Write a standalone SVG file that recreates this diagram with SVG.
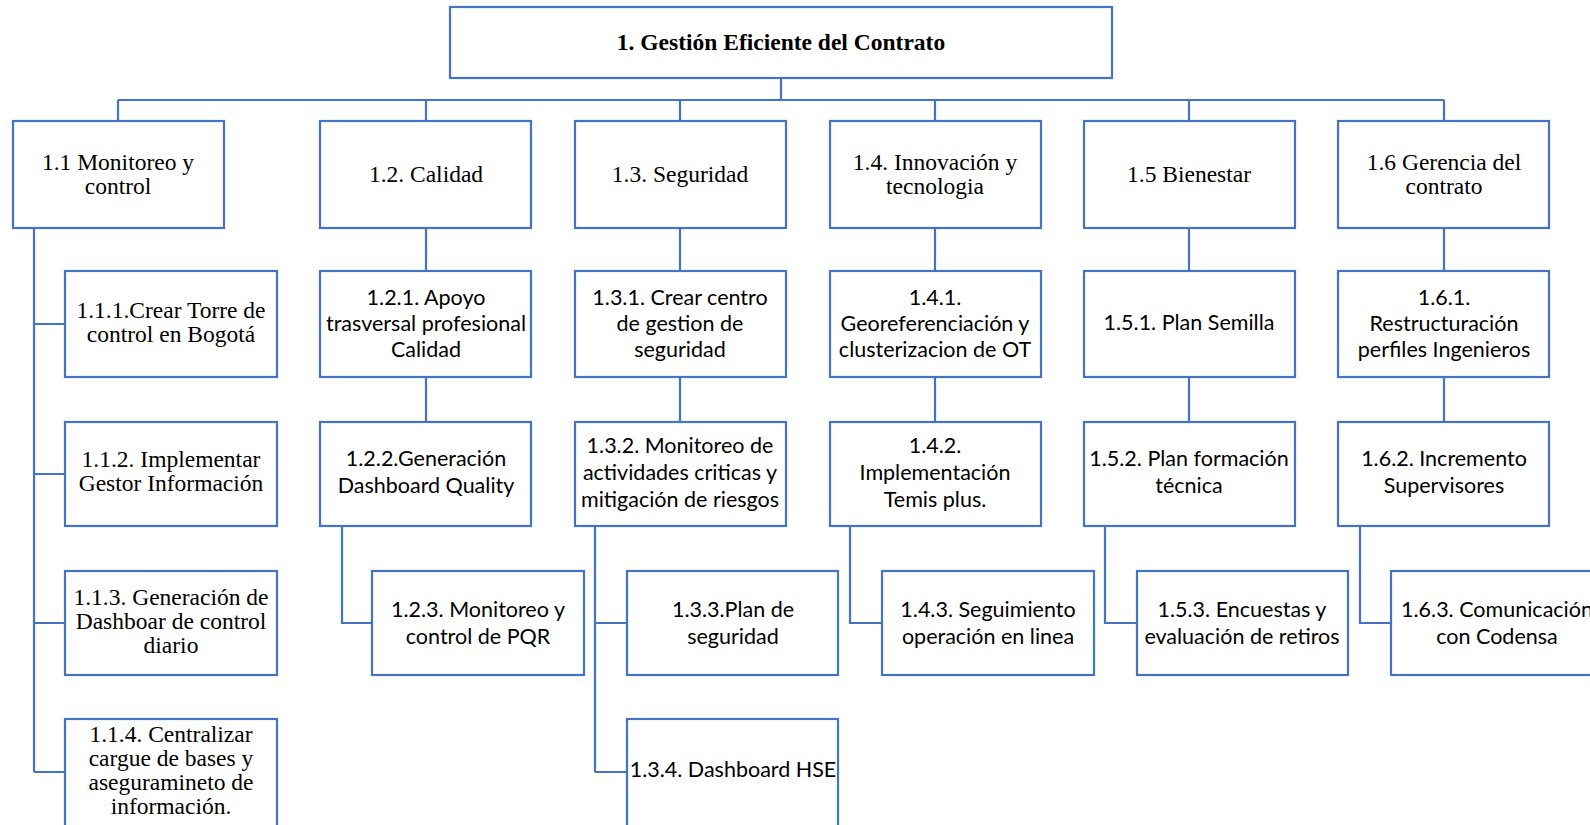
<svg xmlns="http://www.w3.org/2000/svg" width="1590" height="825" viewBox="0 0 1590 825">
  <style>
    .box { fill: #ffffff; stroke: #4472C4; stroke-width: 2.2; }
    .link { fill: none; stroke: #4472C4; stroke-width: 2.2; }
    .serif { font-family: "Liberation Serif", "Times New Roman", serif; font-size: 23.5px; fill: #000; text-anchor: middle; }
    .sans { font-family: Lato, "Noto Sans", sans-serif; font-size: 21.5px; fill: #000; text-anchor: middle; }
    .title { font-weight: bold; }
  </style>
  <rect width="1590" height="825" fill="#ffffff"/>

  <!-- connectors -->
  <g id="connectors" class="link">
    <path d="M781 78 V100 M118 100 H1444"/>
    <path d="M118 100 V121 M426 100 V121 M680 100 V121 M935 100 V121 M1189 100 V121 M1444 100 V121"/>
    <!-- 1.1 spine -->
    <path d="M34 228 V772 M34 324 H65 M34 474 H65 M34 623 H65 M34 772 H65"/>
    <!-- 1.2 chain -->
    <path d="M426 228 V271 M426 377 V422 M342 526 V623 H372"/>
    <!-- 1.3 chain -->
    <path d="M680 228 V271 M680 377 V422 M595 526 V772 M595 623 H627 M595 772 H627"/>
    <!-- 1.4 chain -->
    <path d="M935 228 V271 M935 377 V422 M850 526 V623 H882"/>
    <!-- 1.5 chain -->
    <path d="M1189 228 V271 M1189 377 V422 M1105 526 V623 H1137"/>
    <!-- 1.6 chain -->
    <path d="M1444 228 V271 M1444 377 V422 M1360 526 V623 H1391"/>
  </g>

  <!-- root -->
  <g id="n1">
    <rect class="box" x="450" y="7" width="662" height="71"/>
    <text class="serif title" x="781" y="50">1. Gestión Eficiente del Contrato</text>
  </g>

  <!-- level 1 -->
  <g id="n1_1">
    <rect class="box" x="13" y="121" width="211" height="107"/>
    <text class="serif" x="118" y="170">1.1 Monitoreo y<tspan x="118" dy="24">control</tspan></text>
  </g>
  <g id="n1_2">
    <rect class="box" x="320" y="121" width="211" height="107"/>
    <text class="serif" x="426" y="182">1.2. Calidad</text>
  </g>
  <g id="n1_3">
    <rect class="box" x="575" y="121" width="211" height="107"/>
    <text class="serif" x="680" y="182">1.3. Seguridad</text>
  </g>
  <g id="n1_4">
    <rect class="box" x="830" y="121" width="211" height="107"/>
    <text class="serif" x="935" y="170">1.4. Innovación y<tspan x="935" dy="24">tecnologia</tspan></text>
  </g>
  <g id="n1_5">
    <rect class="box" x="1084" y="121" width="211" height="107"/>
    <text class="serif" x="1189" y="182">1.5 Bienestar</text>
  </g>
  <g id="n1_6">
    <rect class="box" x="1338" y="121" width="211" height="107"/>
    <text class="serif" x="1444" y="170">1.6 Gerencia del<tspan x="1444" dy="24">contrato</tspan></text>
  </g>

  <!-- 1.1 branch -->
  <g id="n1_1_1">
    <rect class="box" x="65" y="271" width="212" height="106"/>
    <text class="serif" x="171" y="318">1.1.1.Crear Torre de<tspan x="171" dy="24">control en Bogotá</tspan></text>
  </g>
  <g id="n1_1_2">
    <rect class="box" x="65" y="422" width="212" height="104"/>
    <text class="serif" x="171" y="467">1.1.2. Implementar<tspan x="171" dy="24">Gestor Información</tspan></text>
  </g>
  <g id="n1_1_3">
    <rect class="box" x="65" y="571" width="212" height="104"/>
    <text class="serif" x="171" y="605">1.1.3. Generación de<tspan x="171" dy="24">Dashboar de control</tspan><tspan x="171" dy="24">diario</tspan></text>
  </g>
  <g id="n1_1_4">
    <rect class="box" x="65" y="719" width="212" height="112"/>
    <text class="serif" x="171" y="742">1.1.4. Centralizar<tspan x="171" dy="24">cargue de bases y</tspan><tspan x="171" dy="24">aseguramineto de</tspan><tspan x="171" dy="24">información.</tspan></text>
  </g>

  <!-- 1.2 branch -->
  <g id="n1_2_1">
    <rect class="box" x="320" y="271" width="211" height="106"/>
    <text class="sans" x="426" y="305">1.2.1. Apoyo<tspan x="426" dy="26">trasversal profesional</tspan><tspan x="426" dy="26">Calidad</tspan></text>
  </g>
  <g id="n1_2_2">
    <rect class="box" x="320" y="422" width="211" height="104"/>
    <text class="sans" x="426" y="466">1.2.2.Generación<tspan x="426" dy="27">Dashboard Quality</tspan></text>
  </g>
  <g id="n1_2_3">
    <rect class="box" x="372" y="571" width="212" height="104"/>
    <text class="sans" x="478" y="617">1.2.3. Monitoreo y<tspan x="478" dy="27">control de PQR</tspan></text>
  </g>

  <!-- 1.3 branch -->
  <g id="n1_3_1">
    <rect class="box" x="575" y="271" width="211" height="106"/>
    <text class="sans" x="680" y="305">1.3.1. Crear centro<tspan x="680" dy="26">de gestion de</tspan><tspan x="680" dy="26">seguridad</tspan></text>
  </g>
  <g id="n1_3_2">
    <rect class="box" x="575" y="422" width="211" height="104"/>
    <text class="sans" x="680" y="453">1.3.2. Monitoreo de<tspan x="680" dy="27">actividades criticas y</tspan><tspan x="680" dy="27">mitigación de riesgos</tspan></text>
  </g>
  <g id="n1_3_3">
    <rect class="box" x="627" y="571" width="211" height="104"/>
    <text class="sans" x="733" y="617">1.3.3.Plan de<tspan x="733" dy="27">seguridad</tspan></text>
  </g>
  <g id="n1_3_4">
    <rect class="box" x="627" y="719" width="211" height="112"/>
    <text class="sans" x="733" y="777">1.3.4. Dashboard HSE</text>
  </g>

  <!-- 1.4 branch -->
  <g id="n1_4_1">
    <rect class="box" x="830" y="271" width="211" height="106"/>
    <text class="sans" x="935" y="305">1.4.1.<tspan x="935" dy="26">Georeferenciación y</tspan><tspan x="935" dy="26">clusterizacion de OT</tspan></text>
  </g>
  <g id="n1_4_2">
    <rect class="box" x="830" y="422" width="211" height="104"/>
    <text class="sans" x="935" y="453">1.4.2.<tspan x="935" dy="27">Implementación</tspan><tspan x="935" dy="27">Temis plus.</tspan></text>
  </g>
  <g id="n1_4_3">
    <rect class="box" x="882" y="571" width="212" height="104"/>
    <text class="sans" x="988" y="617">1.4.3. Seguimiento<tspan x="988" dy="27">operación en linea</tspan></text>
  </g>

  <!-- 1.5 branch -->
  <g id="n1_5_1">
    <rect class="box" x="1084" y="271" width="211" height="106"/>
    <text class="sans" x="1189" y="330">1.5.1. Plan Semilla</text>
  </g>
  <g id="n1_5_2">
    <rect class="box" x="1084" y="422" width="211" height="104"/>
    <text class="sans" x="1189" y="466">1.5.2. Plan formación<tspan x="1189" dy="27">técnica</tspan></text>
  </g>
  <g id="n1_5_3">
    <rect class="box" x="1137" y="571" width="211" height="104"/>
    <text class="sans" x="1242" y="617">1.5.3. Encuestas y<tspan x="1242" dy="27">evaluación de retiros</tspan></text>
  </g>

  <!-- 1.6 branch -->
  <g id="n1_6_1">
    <rect class="box" x="1338" y="271" width="211" height="106"/>
    <text class="sans" x="1444" y="305">1.6.1.<tspan x="1444" dy="26">Restructuración</tspan><tspan x="1444" dy="26">perfiles Ingenieros</tspan></text>
  </g>
  <g id="n1_6_2">
    <rect class="box" x="1338" y="422" width="211" height="104"/>
    <text class="sans" x="1444" y="466">1.6.2. Incremento<tspan x="1444" dy="27">Supervisores</tspan></text>
  </g>
  <g id="n1_6_3">
    <rect class="box" x="1391" y="571" width="212" height="104"/>
    <text class="sans" x="1497" y="617">1.6.3. Comunicación<tspan x="1497" dy="27">con Codensa</tspan></text>
  </g>
</svg>
